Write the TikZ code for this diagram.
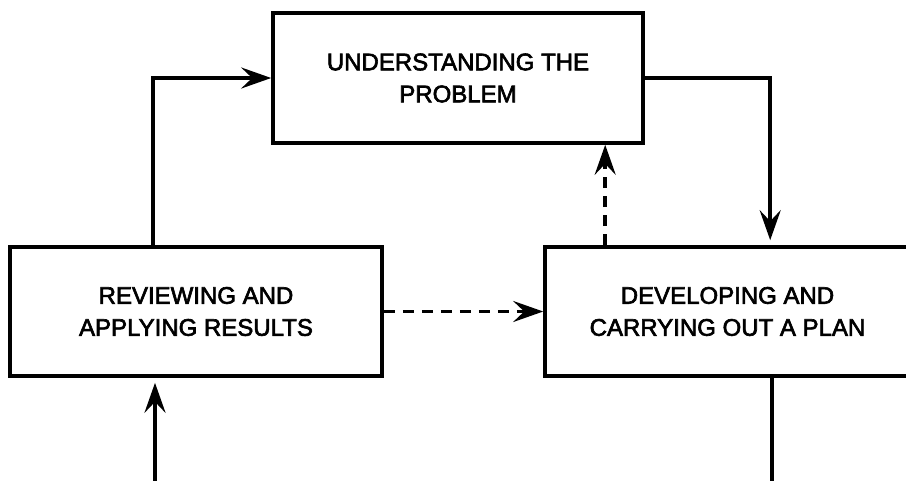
\documentclass[tikz,border=0pt]{standalone}
\usepackage{fontspec}
\setmainfont{Liberation Sans}
\newfontfamily\stagefont{Liberation Sans}[BoldFont=Liberation Sans, BoldFeatures={FakeBold=2.6}]
\usetikzlibrary{arrows.meta}
\begin{document}
\begin{tikzpicture}[x=1pt,y=-1pt,
  stagebox/.style={draw, line width=3.6pt, inner sep=0pt, align=center,
    font=\stagefont\bfseries\fontsize{24}{32}\selectfont},
  flow/.style={line width=3.6pt, line join=miter,
    -{Stealth[length=30pt,width=21pt,inset=11pt]}},
  plain/.style={line width=3.6pt},
  broken/.style={dash pattern=on 11pt off 8pt}
]
\useasboundingbox (0,0) rectangle (906,480);

% the three stages of the cycle
\node[stagebox, minimum width=370pt, minimum height=130pt] (und) at (458,78)
  {UNDERSTANDING THE\\PROBLEM};
\node[stagebox, minimum width=372pt, minimum height=129pt] (rev) at (196,311.5)
  {REVIEWING AND\\APPLYING RESULTS};
\node[stagebox, minimum width=365pt, minimum height=129pt] (dev) at (727.5,311.5)
  {DEVELOPING AND\\CARRYING OUT A PLAN};

% loose ends running off the lower edge
\coordinate (botL) at (155,490);
\coordinate (botR) at (772,490);

% solid flow around the cycle
\draw[flow] ([xshift=145pt]rev.north west) |- (und.west);
\draw[flow, shorten >=5pt] (und.east) -| ([xshift=227pt]dev.north west);
\draw[plain] (dev.south -| botR) -- (botR);
\draw[flow, shorten >=5pt] (botL) -- (rev.south -| botL);

% dashed feedback paths
\draw[flow, broken] (rev.east) -- (dev.west);
\draw[flow, broken] ([xshift=62pt]dev.north west) -- ([xshift=62pt]dev.north west |- und.south);
\end{tikzpicture}
\end{document}
